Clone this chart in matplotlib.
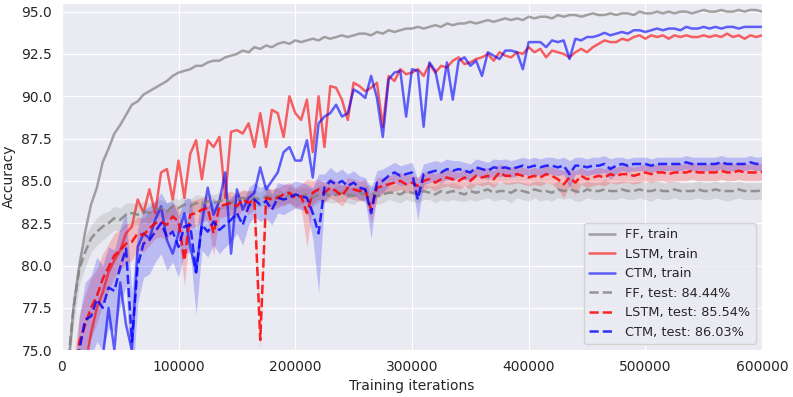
import numpy as np
import matplotlib
matplotlib.use('Agg')
import matplotlib.pyplot as plt
import seaborn as sns

# evaluation every 5000 training iterations
iters = np.arange(0, 600001, 5000)

ff_train = [70.0, 73.5, 77.5, 80.0, 82.0, 83.6, 84.6, 86.1, 86.9, 87.8,
            88.3, 88.9, 89.5, 89.7, 90.1, 90.3, 90.5, 90.7, 90.9, 91.2,
            91.4, 91.5, 91.6, 91.8, 91.8, 92.0, 92.1, 92.1, 92.3, 92.4,
            92.5, 92.7, 92.6, 92.9, 92.8, 93.0, 92.9, 93.1, 93.2, 93.1,
            93.3, 93.2, 93.3, 93.4, 93.3, 93.5, 93.4, 93.5, 93.6, 93.5,
            93.6, 93.7, 93.7, 93.6, 93.8, 93.7, 93.9, 93.8, 93.9, 94.0,
            94.0, 94.1, 94.0, 94.1, 94.2, 94.1, 94.3, 94.2, 94.3, 94.3,
            94.4, 94.3, 94.4, 94.5, 94.4, 94.5, 94.6, 94.5, 94.6, 94.5,
            94.7, 94.6, 94.7, 94.7, 94.6, 94.8, 94.7, 94.8, 94.8, 94.7,
            94.8, 94.9, 94.8, 94.8, 94.9, 94.8, 94.9, 94.9, 94.8, 95.0,
            94.9, 94.9, 95.0, 94.9, 95.0, 94.9, 95.0, 95.0, 94.9, 95.0,
            95.1, 95.0, 95.0, 95.1, 95.0, 95.0, 95.1, 95.0, 95.1, 95.1,
            95.0]

lstm_train = [65.0, 68.0, 70.0, 72.0, 74.0, 76.0, 77.5, 78.4, 79.6, 80.3,
              80.9, 81.9, 82.3, 83.9, 83.1, 84.5, 83.1, 85.5, 85.7, 83.9,
              86.2, 84.0, 86.6, 87.4, 85.1, 87.4, 87.0, 87.6, 84.0, 87.9,
              88.0, 87.8, 88.4, 87.0, 89.0, 87.0, 89.2, 89.0, 87.6, 90.0,
              89.0, 88.6, 89.8, 86.7, 90.0, 87.0, 90.6, 90.5, 89.8, 88.6,
              90.8, 90.6, 90.3, 90.5, 90.8, 88.2, 91.2, 90.9, 91.6, 91.3,
              91.4, 91.6, 91.2, 91.9, 91.4, 91.8, 91.7, 92.1, 92.3, 91.9,
              92.0, 92.2, 92.3, 92.5, 92.1, 92.6, 92.4, 92.3, 92.6, 92.5,
              92.9, 92.6, 92.8, 92.3, 92.7, 92.6, 92.5, 92.3, 92.6, 92.8,
              92.6, 92.9, 93.1, 93.3, 93.2, 93.2, 93.4, 93.3, 93.5, 93.6,
              93.4, 93.6, 93.5, 93.6, 93.4, 93.6, 93.5, 93.6, 93.5, 93.5,
              93.6, 93.5, 93.6, 93.5, 93.7, 93.5, 93.6, 93.4, 93.6, 93.5,
              93.6]

ctm_train = [60.0, 62.0, 64.0, 66.0, 68.0, 70.0, 73.0, 74.5, 77.5, 75.0,
             79.0, 76.5, 75.0, 81.1, 81.9, 81.6, 82.7, 83.5, 81.5, 80.7,
             81.9, 83.1, 81.1, 79.6, 82.5, 84.6, 83.0, 83.8, 85.5, 80.7,
             84.5, 83.3, 84.0, 84.3, 85.8, 84.5, 85.0, 85.5, 86.7, 87.0,
             86.2, 86.2, 87.4, 85.2, 88.4, 88.8, 89.0, 89.5, 88.8, 89.0,
             90.4, 90.2, 89.9, 91.2, 89.9, 87.6, 91.0, 91.4, 91.5, 88.8,
             91.6, 91.5, 88.2, 92.0, 91.5, 89.8, 92.0, 89.8, 92.1, 92.3,
             91.8, 92.1, 91.2, 92.6, 92.4, 92.2, 92.7, 92.7, 92.6, 91.6,
             93.2, 93.2, 93.2, 92.9, 93.3, 93.2, 93.3, 92.2, 93.4, 93.3,
             93.5, 93.5, 93.6, 93.75, 93.6, 93.7, 93.8, 93.7, 93.9, 93.9,
             93.8, 93.9, 94.0, 93.9, 94.0, 94.0, 93.9, 94.1, 94.0, 94.0,
             94.1, 94.0, 94.1, 94.0, 94.1, 94.1, 94.0, 94.1, 94.1, 94.1,
             94.1]

ff_test = [70.0, 74.0, 77.5, 79.8, 80.8, 81.6, 82.0, 82.3, 82.5, 82.8,
           82.7, 83.0, 83.1, 83.0, 83.2, 83.1, 83.3, 83.4, 83.2, 83.5,
           83.4, 83.6, 83.5, 83.7, 83.6, 83.8, 83.7, 83.8, 83.9, 83.7,
           83.9, 84.0, 83.9, 84.0, 83.9, 84.1, 84.0, 84.1, 83.9, 84.2,
           84.0, 84.1, 84.2, 84.0, 84.2, 84.3, 84.1, 84.2, 84.3, 84.2,
           84.1, 84.3, 84.2, 84.3, 84.1, 84.2, 84.3, 84.3, 84.2, 84.4,
           84.3, 84.2, 84.4, 84.3, 84.2, 84.4, 84.3, 84.4, 84.3, 84.2,
           84.4, 84.3, 84.4, 84.5, 84.3, 84.4, 84.4, 84.3, 84.5, 84.4,
           84.3, 84.5, 84.4, 84.4, 84.3, 84.5, 84.4, 84.5, 84.4, 84.3,
           84.5, 84.4, 84.4, 84.5, 84.4, 84.4, 84.5, 84.4, 84.4, 84.5,
           84.4, 84.4, 84.5, 84.4, 84.4, 84.5, 84.4, 84.4, 84.4, 84.5,
           84.4, 84.4, 84.5, 84.4, 84.4, 84.4, 84.5, 84.4, 84.4, 84.4,
           84.44]

lstm_test = [68.0, 70.0, 73.0, 75.5, 76.5, 77.5, 78.2, 79.2, 79.9, 80.6,
             80.9, 81.3, 81.4, 81.9, 81.8, 82.2, 82.5, 82.6, 82.4, 82.9,
             82.6, 80.3, 83.0, 83.1, 83.3, 83.4, 81.9, 83.5, 83.6, 83.7,
             83.5, 83.9, 83.7, 83.9, 75.6, 84.0, 83.9, 84.0, 84.2, 84.3,
             84.0, 84.1, 83.1, 84.3, 84.5, 84.3, 84.6, 84.4, 84.1, 84.6,
             84.5, 84.4, 84.5, 83.3, 84.6, 84.7, 84.8, 84.9, 85.0, 84.8,
             84.9, 84.7, 85.0, 85.1, 84.9, 85.1, 85.2, 85.1, 85.0, 85.2,
             85.0, 85.3, 85.2, 85.3, 85.1, 85.5, 85.3, 85.3, 85.4, 85.3,
             85.2, 85.3, 85.2, 85.4, 85.3, 85.1, 84.8, 85.2, 84.9, 85.3,
             85.1, 85.2, 85.3, 85.2, 85.4, 85.3, 85.4, 85.4, 85.3, 85.4,
             85.5, 85.4, 85.5, 85.5, 85.4, 85.5, 85.5, 85.5, 85.6, 85.5,
             85.5, 85.5, 85.5, 85.6, 85.5, 85.5, 85.6, 85.5, 85.5, 85.5,
             85.54]

ctm_test = [65.0, 68.0, 71.0, 75.0, 76.8, 77.0, 78.0, 77.5, 78.7, 78.5,
            79.9, 81.0, 75.5, 80.0, 81.3, 81.5, 82.0, 82.5, 81.7, 82.0,
            81.1, 82.3, 82.4, 79.6, 82.4, 82.0, 82.6, 82.1, 82.4, 82.7,
            83.1, 82.4, 83.5, 83.9, 83.6, 83.8, 83.3, 84.0, 83.9, 84.0,
            84.2, 84.1, 84.0, 83.1, 81.9, 84.6, 85.0, 84.8, 85.0, 84.7,
            84.9, 84.6, 84.5, 83.1, 84.9, 85.0, 85.3, 85.5, 85.3, 85.4,
            85.5, 83.9, 85.4, 85.5, 85.6, 85.5, 85.7, 85.6, 85.7, 85.6,
            85.5, 85.8, 85.7, 85.6, 85.8, 85.75, 85.8, 85.7, 85.8, 85.9,
            85.8, 85.9, 85.8, 85.9, 85.9, 85.8, 85.9, 85.4, 85.9, 85.9,
            85.8, 85.9, 85.9, 86.0, 85.7, 85.9, 86.0, 85.9, 86.0, 86.0,
            86.0, 85.9, 86.0, 86.0, 86.0, 86.0, 86.0, 86.1, 86.0, 86.0,
            86.0, 86.0, 86.0, 86.1, 86.0, 86.0, 86.0, 86.0, 86.1, 86.0,
            86.03]

# half-width of the shaded test bands
ff_band = [1.0, 1.0, 1.0, 0.9, 0.9, 0.8, 0.8, 0.8, 0.7, 0.7,
           0.7, 0.7, 0.6, 0.6, 0.6, 0.6, 0.5, 0.5, 0.5, 0.5,
           0.5, 0.5, 0.4, 0.5, 0.5, 0.4, 0.5, 0.5, 0.5, 0.4,
           0.5, 0.4, 0.5, 0.5, 0.4, 0.5, 0.5, 0.5, 0.4, 0.5,
           0.5, 0.5, 0.4, 0.5, 0.5, 0.5, 0.4, 0.5, 0.5, 0.5,
           0.5, 0.4, 0.5, 0.5, 0.5, 0.5, 0.4, 0.5, 0.5, 0.5,
           0.5, 0.5, 0.5, 0.4, 0.5, 0.5, 0.5, 0.5, 0.5, 0.4,
           0.5, 0.5, 0.5, 0.5, 0.5, 0.5, 0.5, 0.6, 0.5, 0.5,
           0.5, 0.5, 0.6, 0.5, 0.5, 0.5, 0.5, 0.5, 0.6, 0.5,
           0.5, 0.5, 0.5, 0.6, 0.5, 0.5, 0.5, 0.5, 0.5, 0.5,
           0.5, 0.6, 0.5, 0.5, 0.5, 0.5, 0.5, 0.5, 0.5, 0.5,
           0.5, 0.5, 0.5, 0.5, 0.6, 0.5, 0.5, 0.5, 0.5, 0.5,
           0.5]

lstm_band = [1.5, 1.5, 1.5, 1.6, 1.8, 1.8, 1.6, 1.5, 1.4, 1.3,
             1.2, 1.2, 1.1, 1.0, 1.0, 1.0, 0.9, 0.9, 0.9, 0.8,
             0.8, 1.5, 0.8, 0.8, 0.7, 0.7, 1.3, 0.7, 0.7, 0.7,
             0.7, 0.6, 0.7, 0.6, 0.6, 0.6, 0.6, 0.6, 0.6, 0.6,
             0.6, 0.7, 2.0, 0.7, 0.6, 0.6, 0.6, 0.6, 0.6, 0.6,
             0.6, 0.6, 0.6, 0.8, 0.6, 0.5, 0.5, 0.5, 0.5, 0.5,
             0.5, 0.5, 0.5, 0.5, 0.5, 0.5, 0.5, 0.5, 0.5, 0.5,
             0.5, 0.5, 0.5, 0.5, 0.5, 0.5, 0.5, 0.5, 0.5, 0.5,
             0.5, 0.5, 0.5, 0.5, 0.5, 0.6, 0.8, 0.5, 0.7, 0.5,
             0.5, 0.5, 0.5, 0.5, 0.5, 0.5, 0.5, 0.5, 0.5, 0.5,
             0.5, 0.5, 0.5, 0.5, 0.5, 0.5, 0.5, 0.5, 0.5, 0.5,
             0.5, 0.5, 0.5, 0.5, 0.5, 0.5, 0.5, 0.5, 0.5, 0.5,
             0.5]

ctm_band = [1.5, 1.5, 1.8, 2.0, 2.2, 2.4, 2.5, 2.5, 2.4, 2.4,
            2.3, 2.2, 3.0, 2.2, 2.0, 2.0, 1.8, 1.8, 2.0, 1.8,
            1.8, 1.6, 1.6, 2.5, 1.5, 1.5, 1.4, 1.4, 1.3, 1.3,
            1.2, 1.2, 1.1, 1.0, 1.0, 1.0, 0.9, 0.9, 0.9, 0.8,
            0.8, 0.8, 0.8, 1.5, 3.5, 0.8, 0.8, 0.7, 0.7, 0.7,
            0.7, 0.7, 0.7, 1.5, 0.7, 0.7, 0.6, 0.6, 0.6, 0.6,
            0.6, 1.2, 0.6, 0.6, 0.6, 0.6, 0.6, 0.6, 0.5, 0.5,
            0.5, 0.5, 0.5, 0.5, 0.5, 0.5, 0.5, 0.5, 0.5, 0.5,
            0.5, 0.5, 0.5, 0.5, 0.5, 0.5, 0.5, 0.8, 0.5, 0.5,
            0.5, 0.5, 0.5, 0.5, 0.6, 0.5, 0.4, 0.4, 0.4, 0.4,
            0.4, 0.4, 0.4, 0.4, 0.4, 0.4, 0.4, 0.4, 0.4, 0.4,
            0.4, 0.4, 0.4, 0.4, 0.4, 0.4, 0.4, 0.4, 0.4, 0.4,
            0.4]

sns.set_style('darkgrid')

fig = plt.figure(figsize=(7.93, 3.97), dpi=100)
ax = fig.add_axes([0.078, 0.118, 0.883, 0.874])

tests = [(ff_test, ff_band, 'gray'), (lstm_test, lstm_band, 'red'), (ctm_test, ctm_band, 'blue')]
for vals, band, c in tests:
    v = np.array(vals)
    b = np.array(band)
    ax.fill_between(iters, v - b, v + b, color=c, alpha=0.2, linewidth=0)

ax.plot(iters, ff_train, color='gray', alpha=0.7, lw=1.8, label='FF, train')
ax.plot(iters, lstm_train, color='red', alpha=0.6, lw=1.8, label='LSTM, train')
ax.plot(iters, ctm_train, color='blue', alpha=0.6, lw=1.8, label='CTM, train')
ax.plot(iters, ff_test, color='gray', alpha=0.8, lw=1.8, ls='--', label='FF, test: 84.44%')
ax.plot(iters, lstm_test, color='red', alpha=0.85, lw=1.8, ls='--', label='LSTM, test: 85.54%')
ax.plot(iters, ctm_test, color='blue', alpha=0.8, lw=1.8, ls='--', label='CTM, test: 86.03%')

ax.set_xlim(0, 600000)
ax.set_ylim(75, 95.5)
ax.set_xticks([0, 100000, 200000, 300000, 400000, 500000, 600000])
ax.set_xticklabels(['0', '100000', '200000', '300000', '400000', '500000', '600000'])
ax.set_yticks([75.0, 77.5, 80.0, 82.5, 85.0, 87.5, 90.0, 92.5, 95.0])
ax.set_yticklabels(['75.0', '77.5', '80.0', '82.5', '85.0', '87.5', '90.0', '92.5', '95.0'])
ax.tick_params(labelsize=10)
ax.set_xlabel('Training iterations', fontsize=10)
ax.set_ylabel('Accuracy', fontsize=10)
ax.legend(loc='lower right', fontsize=9.3)

fig.savefig('out.png', dpi=100)
